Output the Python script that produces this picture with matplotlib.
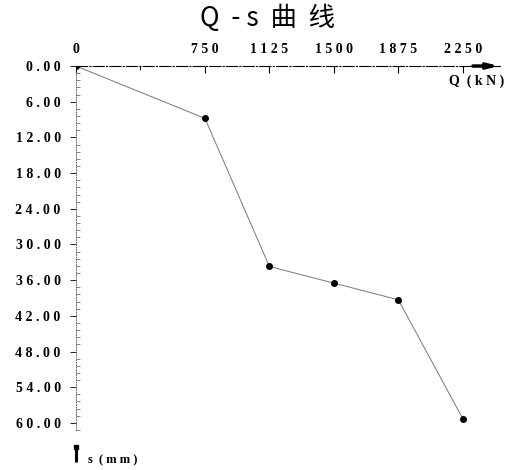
import matplotlib.pyplot as plt
from matplotlib.ticker import FixedLocator, MultipleLocator, FuncFormatter

plt.rcParams['font.family'] = ['Liberation Serif', 'DejaVu Serif']

# load (kN) and settlement (mm)
load = [0, 750, 1125, 1500, 1875, 2250]
settlement = [0.0, 8.8, 33.7, 36.5, 39.3, 59.3]
q_ticks = [0, 750, 1125, 1500, 1875, 2250]
s_ticks = [0, 6, 12, 18, 24, 30, 36, 42, 48, 54, 60]


def spaced(text):
    return ' '.join(text)


fig = plt.figure(figsize=(5.1, 4.7), dpi=100)
ax = fig.add_axes([0.149, 0.085, 0.831, 0.7745])
ax.set_xlim(0, 2465)
ax.set_ylim(61.2, 0)

ax.plot(load, settlement, color='#777777', lw=0.7, zorder=2)
ax.plot(load, settlement, 'o', color='black', ms=4, zorder=3)

for side in ('right', 'bottom'):
    ax.spines[side].set_visible(False)
ax.spines['top'].set_linewidth(0.8)
ax.spines['top'].set_linestyle((0, (10, 2, 1, 2)))
ax.spines['left'].set_linewidth(0.6)
ax.spines['left'].set_linestyle((0, (1, 2)))
ax.spines['left'].set_color('#444444')

ax.xaxis.tick_top()
ax.xaxis.set_major_locator(FixedLocator(q_ticks))
ax.xaxis.set_minor_locator(FixedLocator([375]))
ax.xaxis.set_major_formatter(FuncFormatter(lambda v, p: spaced(f'{v:.0f}')))
ax.tick_params(axis='x', which='major', direction='in', length=5, width=0.8,
               pad=7, labelsize=10)
ax.tick_params(axis='x', which='minor', direction='in', length=3, width=0.6)

ax.yaxis.set_major_locator(FixedLocator(s_ticks))
ax.yaxis.set_minor_locator(MultipleLocator(1.2))
ax.yaxis.set_major_formatter(FuncFormatter(lambda v, p: spaced(f'{v:.2f}')))
ax.tick_params(axis='y', which='major', direction='out', length=4, width=0.6,
               pad=7, labelsize=10)
ax.tick_params(axis='y', which='minor', direction='in', length=3, width=0.5,
               color='#555555')
for lbl in ax.get_xticklabels() + ax.get_yticklabels():
    lbl.set_fontweight('bold')

# arrow at the end of the load axis
ax.annotate('', xy=(1.005, 1.0), xytext=(0.93, 1.0), xycoords='axes fraction',
            arrowprops=dict(arrowstyle='-|>,head_length=0.6,head_width=0.15',
                            color='black', lw=2.5), annotation_clip=False)
ax.text(1.01, 0.978, 'Q  ( k N )', transform=ax.transAxes,
        ha='right', va='top', fontsize=10, fontweight='bold')

# settlement axis marker and label
ax.plot([0, 0], [64.0, 66.6], color='black', lw=2.2, solid_capstyle='butt',
        clip_on=False)
ax.plot([0], [64.0], marker='s', color='black', ms=3.5, clip_on=False)
ax.text(70, 66.3, 's  ( m m )', fontsize=9, fontweight='bold',
        ha='left', va='center')

fig.text(0.525, 0.962, 'Q  - s  曲  线', ha='center', va='center', fontsize=19,
         family=['Noto Sans CJK SC', 'DejaVu Sans'])

fig.savefig('out.png', dpi=100)
